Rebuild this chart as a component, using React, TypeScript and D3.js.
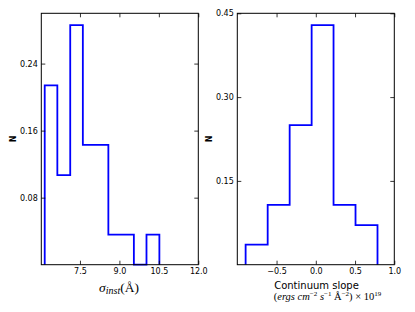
import * as d3 from "d3";
import { useEffect, useRef } from "react";

// left panel: instrumental sigma histogram (normalised)
const sigmaEdges = [6.16, 6.64, 7.13, 7.61, 8.1, 8.58, 9.07, 9.55, 10.03, 10.52];
const sigmaValues = [0.214, 0.107, 0.286, 0.143, 0.143, 0.036, 0.036, 0, 0.036];
const sigmaXTicks = [7.5, 9.0, 10.5, 12.0];
const sigmaYTicks = [0.08, 0.16, 0.24];

// right panel: continuum slope histogram
const slopeEdges = [-0.894, -0.613, -0.333, -0.053, 0.226, 0.506, 0.786];
const slopeValues = [0.036, 0.107, 0.25, 0.429, 0.107, 0.071];
const slopeXTicks = [-0.5, 0.0, 0.5, 1.0];
const slopeYTicks = [0.15, 0.3, 0.45];

const W = 415;
const H = 312;
const top = 13.3;
const bottom = 264.7;

const App = () => {
  const svgRef = useRef<SVGSVGElement>(null);

  useEffect(() => {
    const svg = d3.select(svgRef.current);
    svg.selectAll("*").remove();

    const panel = (
      x0: number,
      x1: number,
      xDomain: [number, number],
      yMax: number,
      edges: number[],
      values: number[],
      xTicks: number[],
      yTicks: number[],
      yFmt: string
    ) => {
      const x = d3.scaleLinear().domain(xDomain).range([x0, x1]);
      const y = d3.scaleLinear().domain([0, yMax]).range([bottom, top]);
      const g = svg.append("g");

      // step outline like histtype='step'
      const pts: [number, number][] = [[edges[0], 0]];
      values.forEach((v, i) => {
        pts.push([edges[i], v]);
        pts.push([edges[i + 1], v]);
      });
      pts.push([edges[edges.length - 1], 0]);
      const line = d3.line<[number, number]>()
        .x((d) => x(d[0]))
        .y((d) => y(d[1]));
      g.append("path")
        .datum(pts)
        .attr("d", line)
        .attr("fill", "none")
        .attr("stroke", "#0000ff")
        .attr("stroke-width", 1.8)
        .attr("stroke-linejoin", "miter");

      const style = (a: d3.Selection<SVGGElement, unknown, null, undefined>) => {
        a.select(".domain").remove();
        a.selectAll("line").attr("stroke", "#000").attr("stroke-width", 0.8);
        a.selectAll("text")
          .attr("font-family", "DejaVu Sans")
          .attr("font-size", 8)
          .attr("fill", "#000");
      };

      g.append("g")
        .attr("transform", `translate(0,${bottom})`)
        .call(d3.axisBottom(x).tickValues(xTicks).tickFormat(d3.format(".1f")).tickSizeInner(-4).tickSizeOuter(0).tickPadding(3.5))
        .call(style);
      g.append("g")
        .attr("transform", `translate(0,${top})`)
        .call(d3.axisTop(x).tickValues(xTicks).tickFormat(() => "").tickSizeInner(-4).tickSizeOuter(0))
        .call(style);
      g.append("g")
        .attr("transform", `translate(${x0},0)`)
        .call(d3.axisLeft(y).tickValues(yTicks).tickFormat(d3.format(yFmt)).tickSizeInner(-4).tickSizeOuter(0).tickPadding(3.5))
        .call(style);
      g.append("g")
        .attr("transform", `translate(${x1},0)`)
        .call(d3.axisRight(y).tickValues(yTicks).tickFormat(() => "").tickSizeInner(-4).tickSizeOuter(0))
        .call(style);

      g.append("rect")
        .attr("x", x0)
        .attr("y", top)
        .attr("width", x1 - x0)
        .attr("height", bottom - top)
        .attr("fill", "none")
        .attr("stroke", "#000")
        .attr("stroke-width", 1);

      // y label
      g.append("text")
        .attr("transform", `translate(${x0 - 25},${(top + bottom) / 2}) rotate(-90)`)
        .attr("text-anchor", "middle")
        .attr("font-family", "DejaVu Sans")
        .attr("font-size", 8)
        .attr("font-weight", "bold")
        .text("N");
    };

    panel(41.3, 198.3, [6.03, 12.0], 0.3, sigmaEdges, sigmaValues, sigmaXTicks, sigmaYTicks, ".2f");
    panel(237.3, 394.3, [-1.0, 1.0], 0.45, slopeEdges, slopeValues, slopeXTicks, slopeYTicks, ".2f");

    // left x label: sigma_inst (Å)
    const lx = svg.append("text")
      .attr("x", 119)
      .attr("y", 291.5)
      .attr("text-anchor", "middle")
      .attr("font-family", "Liberation Serif")
      .attr("font-size", 13.5);
    lx.append("tspan").attr("font-style", "italic").text("σ");
    lx.append("tspan").attr("font-style", "italic").attr("font-size", 10).attr("dy", 2.5).text("inst");
    lx.append("tspan").attr("dy", -2.5).text("(Å)");

    // right x label, two lines
    svg.append("text")
      .attr("x", 316.5)
      .attr("y", 288.5)
      .attr("text-anchor", "middle")
      .attr("font-family", "DejaVu Sans")
      .attr("font-size", 10)
      .text("Continuum slope");

    const rx = svg.append("text")
      .attr("x", 327.5)
      .attr("y", 300)
      .attr("text-anchor", "middle")
      .attr("font-family", "Liberation Serif")
      .attr("font-size", 10.5);
    rx.append("tspan").text("(");
    rx.append("tspan").attr("font-style", "italic").text("ergs cm");
    rx.append("tspan").attr("font-size", 7).attr("dy", -4).text("−2");
    rx.append("tspan").attr("dy", 4).attr("font-style", "italic").text("  s");
    rx.append("tspan").attr("font-size", 7).attr("dy", -4).text("−1");
    rx.append("tspan").attr("dy", 4).text("  Å");
    rx.append("tspan").attr("font-size", 7).attr("dy", -4).text("−2");
    rx.append("tspan").attr("dy", 4).text(")  × 10");
    rx.append("tspan").attr("font-size", 7).attr("dy", -4).text("19");
  }, []);

  return (
    <svg
      ref={svgRef}
      width={W}
      height={H}
      style={{ position: "absolute", left: 0, top: 0, background: "#fff" }}
    />
  );
};

export default App;
